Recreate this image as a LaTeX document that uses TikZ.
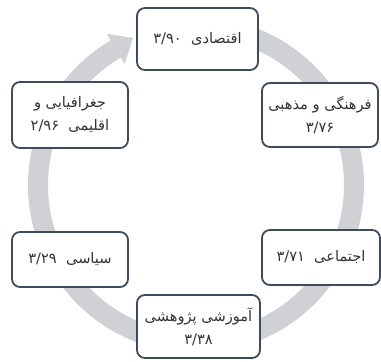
\documentclass[tikz,border=0pt]{standalone}
\usepackage{fontspec}
\usetikzlibrary{calc}
\TeXXeTstate=1
\newfontfamily\arabicfont[Script=Arabic]{DejaVu Sans}
\definecolor{ringgray}{HTML}{D0D1D5}
\definecolor{boxedge}{HTML}{3F4B5D}
\definecolor{txt}{HTML}{333333}
\begin{document}
\begin{tikzpicture}[x=1pt,y=1pt,
  cardbox/.style={draw=boxedge,line width=1.8pt,rounded corners=8pt,fill=white,
    inner sep=0pt,align=center,text=txt,
    font=\arabicfont\fontsize{14.6}{23}\selectfont}]
\path[use as bounding box] (0,0) rectangle (381,362);
\coordinate (c) at (196,177);
% circular arrow
\draw[ringgray,line width=20pt] ($(c)+(85:158)$) arc[start angle=85,end angle=-240,radius=158];
\fill[ringgray] ($(c)+(120.5:175.5)$) -- ($(c)+(113.2:160)$) -- ($(c)+(120.5:140.5)$) -- cycle;
% boxes
\node[cardbox,minimum width=121pt,minimum height=62pt] (eco) at (197.5,323) {\beginR اقتصادی~~۳/۹۰\endR};
\node[cardbox,minimum width=116pt,minimum height=64pt] (cul) at (320,247) {\beginR فرهنگی و مذهبی\endR\\\beginR ۳/۷۶\endR};
\node[cardbox,minimum width=116pt,minimum height=66pt] (geo) at (70,247) {\beginR جغرافیایی و\endR\\\beginR اقلیمی~~۲/۹۶\endR};
\node[cardbox,minimum width=116pt,minimum height=55pt] (pol) at (70,102.5) {\beginR سیاسی~~۳/۲۹\endR};
\node[cardbox,minimum width=118pt,minimum height=55pt] (soc) at (321,104.5) {\beginR اجتماعی~~۳/۷۱\endR};
\node[cardbox,minimum width=123pt,minimum height=63pt] (edu) at (198.5,35.5) {\beginR آموزشی پژوهشی\endR\\\beginR ۳/۳۸\endR};
\end{tikzpicture}
\end{document}
